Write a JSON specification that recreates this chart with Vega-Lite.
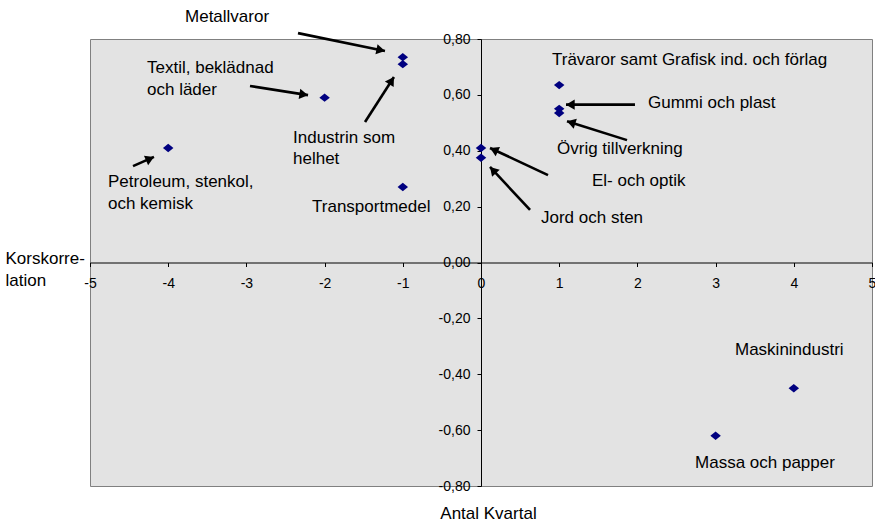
{
  "$schema": "https://vega.github.io/schema/vega-lite/v6.json",
  "width": 782,
  "height": 447,
  "autosize": {"type": "none"},
  "padding": {"left": 90, "top": 39, "right": 3, "bottom": 35},
  "background": "white",
  "config": {
    "font": "Liberation Sans",
    "view": {"fill": "#e3e3e3", "stroke": "#808080", "strokeWidth": 1},
    "axis": {"grid": false, "labelFont": "Liberation Sans", "labelFontSize": 14, "labelColor": "#000", "titleFont": "Liberation Sans", "titleFontSize": 17, "titleFontWeight": "normal", "titleColor": "#000", "domainColor": "#000", "tickColor": "#000", "tickSize": 4}
  },
  "datasets": {
    "points": [
      {"sektor": "Petroleum, stenkol, och kemisk", "x": -4, "y": 0.41},
      {"sektor": "Textil, beklädnad och läder", "x": -2, "y": 0.59},
      {"sektor": "Metallvaror", "x": -1, "y": 0.735},
      {"sektor": "Industrin som helhet", "x": -1, "y": 0.71},
      {"sektor": "Transportmedel", "x": -1, "y": 0.27},
      {"sektor": "El- och optik", "x": 0, "y": 0.41},
      {"sektor": "Jord och sten", "x": 0, "y": 0.375},
      {"sektor": "Trävaror samt Grafisk ind. och förlag", "x": 1, "y": 0.635},
      {"sektor": "Gummi och plast", "x": 1, "y": 0.55},
      {"sektor": "Övrig tillverkning", "x": 1, "y": 0.535},
      {"sektor": "Maskinindustri", "x": 4, "y": -0.45},
      {"sektor": "Massa och papper", "x": 3, "y": -0.62}
    ],
    "labels": [
      {"label": "Metallvaror", "x": -3.785, "y": 0.861},
      {"label": "Textil, beklädnad\noch läder", "x": -4.271, "y": 0.678},
      {"label": "Petroleum, stenkol,\noch kemisk", "x": -4.77, "y": 0.27},
      {"label": "Industrin som\nhelhet", "x": -2.404, "y": 0.428},
      {"label": "Transportmedel", "x": -2.161, "y": 0.181},
      {"label": "Trävaror samt Grafisk ind. och förlag", "x": 0.908, "y": 0.707},
      {"label": "Gummi och plast", "x": 2.136, "y": 0.553},
      {"label": "Övrig tillverkning", "x": 0.972, "y": 0.388},
      {"label": "El- och optik", "x": 1.419, "y": 0.274},
      {"label": "Jord och sten", "x": 0.767, "y": 0.141},
      {"label": "Maskinindustri", "x": 3.248, "y": -0.331},
      {"label": "Massa och papper", "x": 2.737, "y": -0.736}
    ],
    "arrows": [
      {"x": -2.34, "y": 0.821, "x2": -1.228, "y2": 0.757},
      {"x": -2.954, "y": 0.632, "x2": -2.212, "y2": 0.599},
      {"x": -4.45, "y": 0.345, "x2": -4.182, "y2": 0.378},
      {"x": -1.483, "y": 0.503, "x2": -1.113, "y2": 0.664},
      {"x": 1.969, "y": 0.565, "x2": 1.087, "y2": 0.565},
      {"x": 1.867, "y": 0.438, "x2": 1.1, "y2": 0.506},
      {"x": 0.857, "y": 0.313, "x2": 0.115, "y2": 0.41},
      {"x": 0.627, "y": 0.188, "x2": 0.115, "y2": 0.342}
    ]
  },
  "layer": [
    {
      "data": {"name": "points"},
      "mark": {"type": "point", "shape": "M-1,0L0,-0.8L1,0L0,0.8Z", "filled": true, "size": 110, "color": "#000080", "opacity": 1},
      "encoding": {
        "x": {"field": "x", "type": "quantitative",
          "scale": {"domain": [-5, 5], "nice": false, "zero": false},
          "axis": {"orient": "bottom", "offset": -223.5, "values": [-5, -4, -3, -2, -1, 0, 1, 2, 3, 4, 5], "labelExpr": "replace(format(datum.value, 'd'), '\u2212', '-')", "labelPadding": 10, "labelFlush": false, "labelOverlap": false,
            "title": "Antal Kvartal", "titleX": 398, "titleY": 255.5, "titleAlign": "center", "titleAnchor": null, "titleBaseline": "alphabetic"}},
        "y": {"field": "y", "type": "quantitative",
          "scale": {"domain": [-0.8, 0.8], "nice": false, "zero": false},
          "axis": {"orient": "left", "offset": -391, "values": [-0.8, -0.6, -0.4, -0.2, 0, 0.2, 0.4, 0.6, 0.8], "labelExpr": "replace(replace(format(datum.value, '.2f'), '.', ','), '\u2212', '-')", "labelPadding": 7, "labelFlush": false, "labelOverlap": false,
            "title": ["Korskorre-", "lation"], "titleAngle": 0, "titleX": -476, "titleY": 224, "titleAlign": "left", "titleAnchor": null, "titleBaseline": "alphabetic", "titleLineHeight": 22}}
      }
    },
    {
      "data": {"name": "labels"},
      "mark": {"type": "text", "align": "left", "baseline": "alphabetic", "fontSize": 17, "lineHeight": 21.5, "lineBreak": "\n", "color": "#000", "font": "Liberation Sans"},
      "encoding": {
        "x": {"field": "x", "type": "quantitative"},
        "y": {"field": "y", "type": "quantitative"},
        "text": {"field": "label"}
      }
    },
    {
      "data": {"name": "arrows"},
      "mark": {"type": "rule", "color": "#000", "strokeWidth": 2.6},
      "encoding": {
        "x": {"field": "x", "type": "quantitative"},
        "y": {"field": "y", "type": "quantitative"},
        "x2": {"field": "x2"},
        "y2": {"field": "y2"}
      }
    },
    {
      "data": {"name": "arrows"},
      "transform": [
        {"calculate": "atan2(-(datum.y2 - datum.y) * 279.375, (datum.x2 - datum.x) * 78.2) * 180 / PI", "as": "ang"}
      ],
      "mark": {"type": "point", "shape": "M0,0L-1,-0.6L-1,0.6Z", "filled": true, "size": 300, "color": "#000", "opacity": 1},
      "encoding": {
        "x": {"field": "x2", "type": "quantitative"},
        "y": {"field": "y2", "type": "quantitative"},
        "angle": {"field": "ang", "type": "quantitative", "scale": null}
      }
    }
  ]
}
